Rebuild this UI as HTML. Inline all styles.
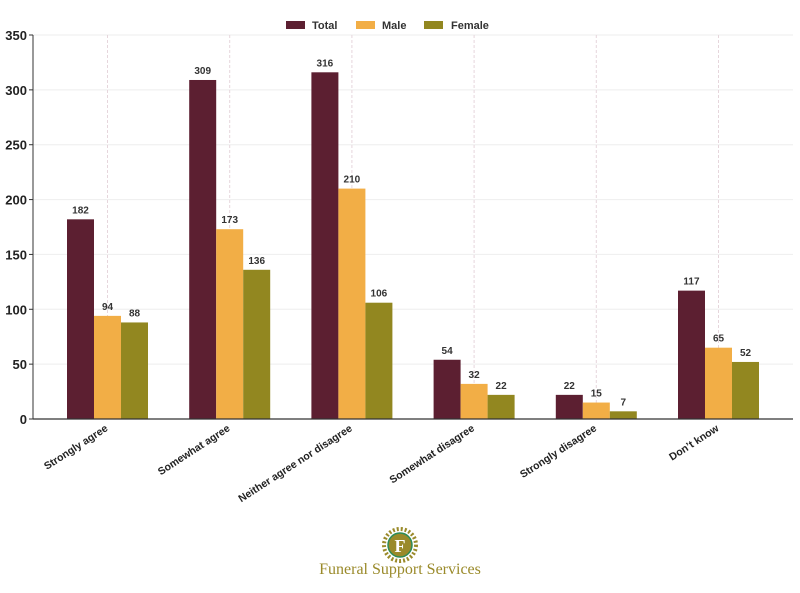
<!DOCTYPE html>
<html><head><meta charset="utf-8"><style>
body{margin:0;background:#fff;width:800px;height:588px;overflow:hidden}
text{font-family:"Liberation Sans",sans-serif}
</style></head><body>
<svg id="s" width="800" height="588" viewBox="0 0 800 588" xmlns="http://www.w3.org/2000/svg">
<g id="g"></g>
<rect x="286" y="21" width="19" height="8" fill="#5c1f31"/><text x="312" y="29" font-size="11" font-weight="bold" fill="#333">Total</text>
<rect x="356" y="21" width="19" height="8" fill="#f2ae46"/><text x="382" y="29" font-size="11" font-weight="bold" fill="#333">Male</text>
<rect x="424" y="21" width="19" height="8" fill="#928720"/><text x="451" y="29" font-size="11" font-weight="bold" fill="#333">Female</text>
<circle cx="400" cy="545" r="16" fill="none" stroke="#9a8a2a" stroke-width="4" stroke-dasharray="2 2"/>
<circle cx="400" cy="545" r="12" fill="#9a8a2a" stroke="#2e8b57" stroke-width="1.5"/>
<text x="400" y="552" font-size="18" font-weight="bold" fill="#fff" text-anchor="middle" style="font-family:'Liberation Serif',serif">F</text>
<text x="400" y="574" font-size="16" fill="#9a8a2a" text-anchor="middle" style="font-family:'Liberation Serif',serif">Funeral Support Services</text>
</svg>
<script>
var g=document.getElementById('g'),h='';
var y0=419,k=384/350;
for(var v=0;v<=350;v+=50){var y=y0-v*k;
 if(v>0)h+='<line x1="33" x2="793" y1="'+y+'" y2="'+y+'" stroke="#eee"/>';
 h+='<line x1="29" x2="33" y1="'+y+'" y2="'+y+'" stroke="#333"/>';
 h+='<text x="27" y="'+(y+5)+'" font-size="13" font-weight="bold" text-anchor="end" fill="#222">'+v+'</text>';}
var cats=["Strongly agree","Somewhat agree","Neither agree nor disagree","Somewhat disagree","Strongly disagree","Don\u2019t know"];
var d=[[182,94,88],[309,173,136],[316,210,106],[54,32,22],[22,15,7],[117,65,52]];
var col=["#5c1f31","#f2ae46","#928720"];
for(var i=0;i<6;i++){var cx=107.5+i*122.2;
 h+='<line x1="'+cx+'" x2="'+cx+'" y1="35" y2="419" stroke="#e6d6dc" stroke-dasharray="3 2"/>';}
for(var i=0;i<6;i++){var x0=67+i*122.2;
 for(var j=0;j<3;j++){var x=x0+j*27,v=d[i][j],y=y0-v*k;
  h+='<rect x="'+x+'" y="'+y+'" width="27" height="'+(v*k)+'" fill="'+col[j]+'"/>';
  h+='<text x="'+(x+13.5)+'" y="'+(y-6)+'" font-size="10" font-weight="bold" text-anchor="middle" fill="#333">'+v+'</text>';}
 var cx=107.5+i*122.2;
 h+='<text transform="translate('+(cx+1)+',430) rotate(-33)" font-size="10.5" font-weight="bold" text-anchor="end" fill="#222">'+cats[i]+'</text>';}
h+='<line x1="33" x2="33" y1="35" y2="419" stroke="#333"/><line x1="33" x2="793" y1="419" y2="419" stroke="#333" stroke-width="1.2"/>';
g.innerHTML=h;
</script>
</body></html>
